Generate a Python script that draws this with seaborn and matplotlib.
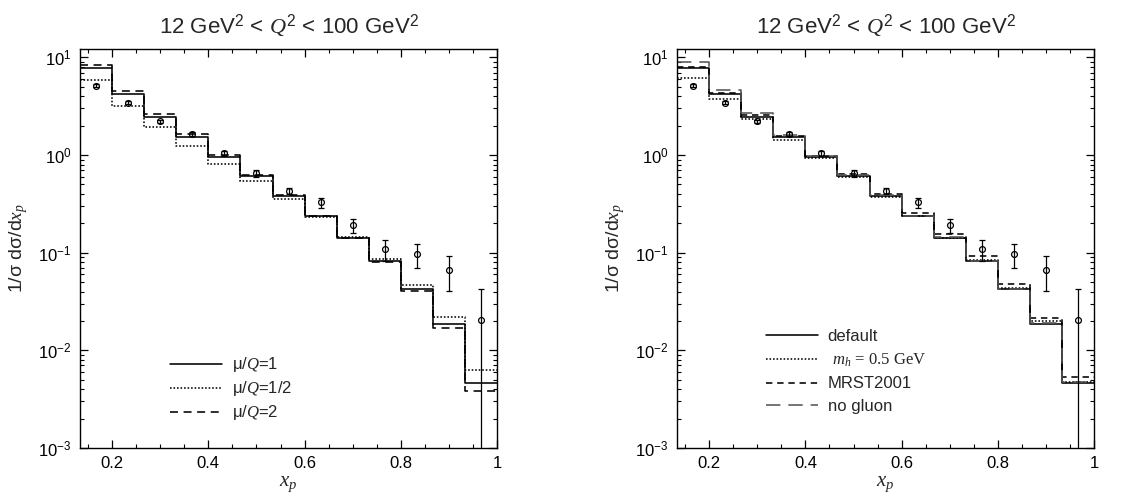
import numpy as np
import matplotlib
matplotlib.use("Agg")
import matplotlib.pyplot as plt
import seaborn as sns
from matplotlib.ticker import MultipleLocator, LogLocator, NullFormatter, FuncFormatter

# ---- data -------------------------------------------------------------
# x_p bins: 13 bins of width 1/15 from 2/15 to 1
bin_lo = 2 / 15
bin_hi = 1.0
n_bins = 13

# measured points (bin centres), with symmetric errors
data_vals = [5.14, 3.44, 2.23, 1.64, 1.04, 0.65, 0.43, 0.327, 0.191, 0.108,
             0.0962, 0.0662, 0.0203]
data_errs = [0.15, 0.12, 0.08, 0.08, 0.06, 0.05, 0.035, 0.038, 0.032, 0.026,
             0.027, 0.026, 0.022]

# scale variation (left)
mu_1 = [7.75, 4.22, 2.47, 1.52, 0.953, 0.604, 0.385, 0.239, 0.143, 0.0830,
        0.0425, 0.0185, 0.00462]
mu_half = [5.88, 3.20, 1.95, 1.24, 0.81, 0.541, 0.355, 0.231, 0.145, 0.0857,
           0.0472, 0.0220, 0.00634]
mu_2 = [8.44, 4.57, 2.63, 1.63, 1.00, 0.623, 0.390, 0.240, 0.142, 0.0805,
        0.0405, 0.0169, 0.0038]

# input variation (right)
default = mu_1
mass_h = [6.21, 3.75, 2.32, 1.43, 0.925, 0.59, 0.375, 0.235, 0.143, 0.084,
          0.0435, 0.0201, 0.0047]
mrst2001 = [8.05, 4.30, 2.57, 1.58, 0.99, 0.635, 0.400, 0.258, 0.157, 0.092,
            0.0483, 0.0215, 0.00533]
no_gluon = [9.06, 4.64, 2.68, 1.60, 0.99, 0.620, 0.390, 0.240, 0.145, 0.083,
            0.0430, 0.0190, 0.0047]

title_text = r"12 GeV$^2$ < $Q^2$ < 100 GeV$^2$"

# ---- style ------------------------------------------------------------
sns.set_style("ticks")
plt.rcParams["font.family"] = ["Liberation Sans", "DejaVu Sans"]
plt.rcParams["mathtext.fontset"] = "custom"
plt.rcParams["mathtext.rm"] = "Liberation Sans"
plt.rcParams["mathtext.it"] = "Liberation Serif:italic"
plt.rcParams["mathtext.bf"] = "Liberation Sans:bold"
plt.rcParams["axes.edgecolor"] = "black"
plt.rcParams["axes.linewidth"] = 1.0

edges = np.linspace(bin_lo, bin_hi, n_bins + 1)
centres = 0.5 * (edges[:-1] + edges[1:])

fig = plt.figure(figsize=(11.46, 5.0), dpi=100)
ax_l = fig.add_axes([0.0698, 0.104, 0.364, 0.798])
ax_r = fig.add_axes([0.5908, 0.104, 0.364, 0.798])


def step(ax, vals, label, dashes, color="black", lw=1.15):
    y = np.append(vals, vals[-1])
    sns.lineplot(x=edges, y=y, ax=ax, drawstyle="steps-post", color=color,
                 linewidth=lw, label=label, estimator=None, sort=False,
                 dashes=False)
    line = ax.get_lines()[-1]
    if dashes is not None:
        line.set_dashes(dashes)


def frame(ax):
    ax.set_yscale("log")
    ax.set_xlim(bin_lo, bin_hi)
    ax.set_ylim(1e-3, 12.2)
    ax.xaxis.set_major_locator(MultipleLocator(0.2))
    ax.xaxis.set_minor_locator(MultipleLocator(0.05))
    ax.yaxis.set_major_locator(LogLocator(base=10, numticks=10))
    ax.yaxis.set_minor_locator(LogLocator(base=10, subs=np.arange(2, 10), numticks=20))
    ax.yaxis.set_minor_formatter(NullFormatter())
    ax.xaxis.set_major_formatter(FuncFormatter(
        lambda v, p: "1" if abs(v - 1) < 1e-9 else f"{v:.1f}"))
    ax.tick_params(which="both", direction="in", top=True, right=True,
                   colors="black", labelsize=12)
    ax.tick_params(which="major", length=6, width=0.9, pad=6)
    ax.tick_params(which="minor", length=3, width=0.8)
    for s in ax.spines.values():
        s.set_visible(True)
        s.set_color("black")
    ax.set_title(title_text, fontsize=16, pad=11)
    ax.set_xlabel(r"$x_p$", fontsize=15, labelpad=2)
    ax.set_ylabel(r"1/σ dσ/d$x_p$", fontsize=14, labelpad=6)
    ax.errorbar(centres, data_vals, yerr=data_errs, fmt="o", ms=4.2,
                mfc="none", mec="black", mew=0.9, ecolor="black",
                elinewidth=0.9, capsize=2.5, capthick=0.9, zorder=5)


legend_kw = dict(loc="upper left", frameon=False, fontsize=12,
                 handlelength=3.1, handletextpad=0.6, borderpad=0,
                 borderaxespad=0)

# left panel: renormalisation/factorisation scale
step(ax_l, mu_1, r"μ/$Q$=1", None)
step(ax_l, mu_half, r"μ/$Q$=1/2", (1, 1.2))
step(ax_l, mu_2, r"μ/$Q$=2", (5, 3.5))
frame(ax_l)
ax_l.legend(bbox_to_anchor=(0.216, 0.232), labelspacing=0.3, **legend_kw)

# right panel: hadron mass, PDF set, gluon
step(ax_r, default, "default", None)
step(ax_r, mass_h, r" $m_h$ = 0.5 GeV", (1, 1.2))
step(ax_r, mrst2001, "MRST2001", (4, 3))
step(ax_r, no_gluon, "no gluon", (9, 5), color="#555555")
frame(ax_r)
leg_r = ax_r.legend(bbox_to_anchor=(0.213, 0.298), labelspacing=0.45, **legend_kw)
leg_r.get_texts()[1].set_fontfamily("Liberation Serif")

fig.savefig("out.png", dpi=100)
